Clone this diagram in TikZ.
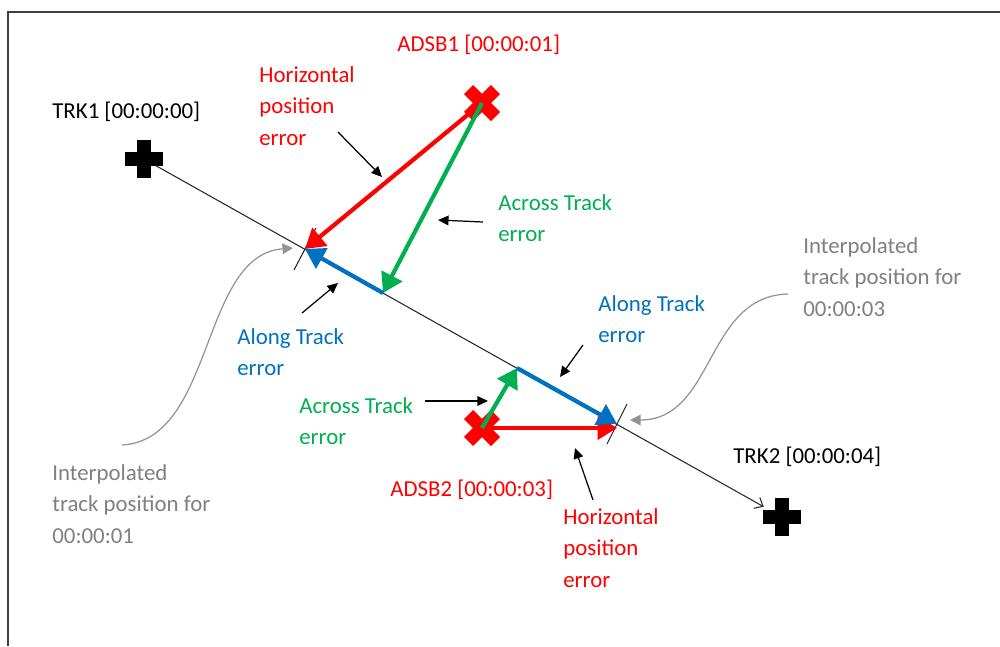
\documentclass[tikz,border=0pt]{standalone}
\usepackage{fontspec}
\setmainfont{Carlito}
\usetikzlibrary{arrows.meta,shapes}
\definecolor{adsbred}{RGB}{255,0,0}
\definecolor{xtgreen}{RGB}{0,176,80}
\definecolor{atblue}{RGB}{0,112,192}
\definecolor{notegrey}{RGB}{128,128,128}
\definecolor{framegrey}{RGB}{64,64,64}
\tikzstyle{black cross}=[cross out,draw=black,rotate=45,line width=8.2pt,minimum size=0.54cm,inner sep=0pt,outer sep=0pt]
\tikzstyle{red cross}=[cross out,draw=adsbred,line width=7.4pt,minimum size=0.54cm,inner sep=0pt,outer sep=0pt]
\tikzstyle{track line}=[draw,black!85,line width=0.6pt,-{Straight Barb[length=4pt,width=7pt]}]
\tikzstyle{tick mark}=[draw,black!85,line width=0.6pt]
\tikzstyle{error arrow}=[draw,line width=2.4pt,-{Triangle[length=11pt,width=13pt]}]
\tikzstyle{red arrow}=[error arrow,adsbred]
\tikzstyle{green arrow}=[error arrow,xtgreen]
\tikzstyle{blue arrow}=[error arrow,atblue]
\tikzstyle{pointer}=[draw,black,line width=0.7pt,-{Triangle[length=6pt,width=5.5pt]}]
\tikzstyle{grey curve}=[draw,notegrey!85,line width=0.7pt,-{Triangle[length=6pt,width=6pt]}]
\tikzstyle{note}=[font=\fontsize{13pt}{18pt}\selectfont,align=left,anchor=west,inner sep=0pt]

\begin{document}
\begin{tikzpicture}[x=0.02cm,y=-0.02cm]
        \useasboundingbox (0,0) rectangle (1000,646);
        % frame
        \draw[framegrey,line width=1.2pt] (8,646) -- (8,12) -- (1000,12);
        % track and points on it
        \node[black cross] (trk1) at (144,159) {};
        \node[black cross] (trk2) at (782,517) {};
        \coordinate (ip1) at (305,249);
        \coordinate (ip2) at (617,424);
        \coordinate (foot1) at (383,293);
        \coordinate (foot2) at (517,368);
        \draw[tick mark] (ip1) ++(-11,21) -- ++(22,-42);
        \draw[tick mark] (ip2) ++(-10,20) -- ++(20,-40);
        \draw[track line,shorten >=0.14cm] (trk1) to (trk2);
        % adsb reports
        \node[red cross] (adsb1) at (482,103) {};
        \node[red cross] (adsb2) at (482,428) {};
        \draw[red arrow] (adsb1.center) to (ip1);
        \draw[green arrow] (adsb1.center) to (foot1);
        \draw[blue arrow] (foot1) to (ip1);
        \draw[red arrow] (adsb2.center) to (ip2 |- adsb2.center);
        \draw[green arrow] (adsb2.center) to (foot2);
        \draw[blue arrow] (foot2) to (ip2);
        % labels
        \node[note] (trk1lbl) at (52,112) {TRK1 [00:00:00]};
        \node[note] (trk2lbl) at (733,457) {TRK2 [00:00:04]};
        \node[note,text=adsbred] (adsb1lbl) at (397,45) {ADSB1 [00:00:01]};
        \node[note,text=adsbred] (adsb2lbl) at (390,490) {ADSB2 [00:00:03]};
        \node[note,text=adsbred] (hpe1) at (259,106) {Horizontal\\position\\error};
        \node[note,text=adsbred] (hpe2) at (563,548) {Horizontal\\position\\error};
        \node[note,text=xtgreen] (xte1) at (498,218) {Across Track\\error};
        \node[note,text=xtgreen] (xte2) at (299,421) {Across Track\\error};
        \node[note,text=atblue] (ate1) at (237,352) {Along Track\\error};
        \node[note,text=atblue] (ate2) at (598,319) {Along Track\\error};
        \node[note,text=notegrey] (ip1lbl) at (52,504) {Interpolated\\track position for\\00:00:01};
        \node[note,text=notegrey] (ip2lbl) at (803,277) {Interpolated\\track position for\\00:00:03};
        % pointers
        \coordinate (hpe1a) at (338,132); \coordinate (hpe1b) at (382,177);
        \coordinate (xte1a) at (483,222); \coordinate (xte1b) at (438,220);
        \coordinate (ate1a) at (302,313); \coordinate (ate1b) at (338,283);
        \coordinate (ate2a) at (583,345); \coordinate (ate2b) at (560,377);
        \coordinate (xte2a) at (425,401); \coordinate (xte2b) at (488,401);
        \coordinate (hpe2a) at (593,500); \coordinate (hpe2b) at (575,448);
        \draw[pointer] (hpe1a) to (hpe1b);
        \draw[pointer] (xte1a) to (xte1b);
        \draw[pointer] (ate1a) to (ate1b);
        \draw[pointer] (ate2a) to (ate2b);
        \draw[pointer] (xte2a) to (xte2b);
        \draw[pointer] (hpe2a) to (hpe2b);
        % grey call outs
        \coordinate (ip1a) at (122,445); \coordinate (ip1b) at (293,248);
        \coordinate (ip2a) at (788,294); \coordinate (ip2b) at (630,420);
        \draw[grey curve] (ip1a) .. controls (215,440) and (200,255) .. (ip1b);
        \draw[grey curve] (ip2a) .. controls (705,296) and (715,420) .. (ip2b);
      \end{tikzpicture}
\end{document}
